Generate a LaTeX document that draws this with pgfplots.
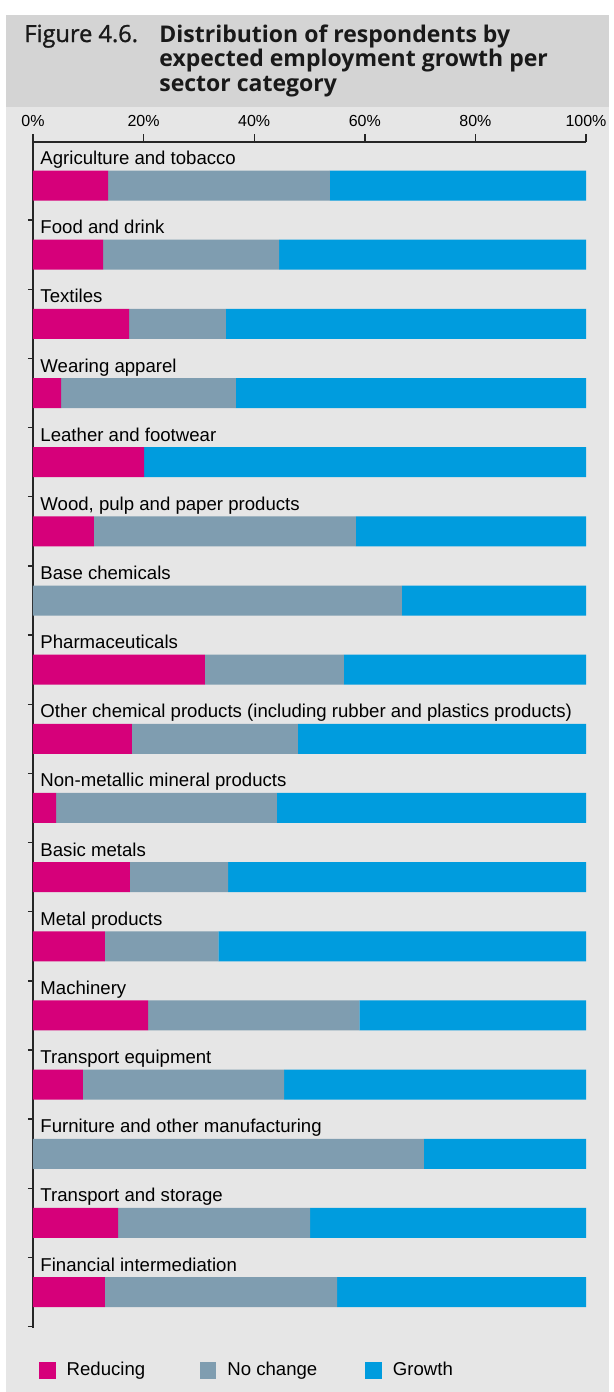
\documentclass[border=0pt]{standalone}
\usepackage{pgfplots}
\pgfplotsset{compat=1.18}
\usepackage{pgfplotstable}
\usepackage{fontspec}
\setmainfont{Liberation Sans}
\newfontfamily\titlefont{Open Sans}
\newfontfamily\figfont{Open Sans}[FakeBold=1.2]
\definecolor{reducing}{HTML}{D6007A}
\definecolor{nochange}{HTML}{7F9DB0}
\definecolor{growth}{HTML}{009CDE}
\definecolor{titlebg}{HTML}{D4D4D4}
\definecolor{panelbg}{HTML}{E6E6E6}

% share of respondents (%) per sector, top to bottom
\pgfplotstableread{
idx red grey blue
0  13.6 40.1 46.3
1  12.7 31.8 55.5
2  17.4 17.5 65.1
3   5.1 31.6 63.3
4  20.1  0.0 79.9
5  11.0 47.4 41.6
6   0.0 66.7 33.3
7  31.1 25.1 43.8
8  17.9 30.0 52.1
9   4.2 39.9 55.9
10 17.5 17.8 64.7
11 13.0 20.5 66.5
12 20.8 38.2 41.0
13  9.0 36.4 54.6
14  0.0 70.7 29.3
15 15.4 34.7 49.9
16 13.0 42.0 45.0
}\sectors

\begin{document}
\begin{tikzpicture}
\fill[white] (0,0) rectangle (304.5pt,-696pt);
\fill[titlebg] (3pt,-7.5pt) rectangle (304.5pt,-53.5pt);
\fill[panelbg] (3pt,-53.5pt) rectangle (304.5pt,-696pt);
\node[anchor=base west, inner sep=0pt, text=black!90, font=\figfont\fontsize{11.8}{12}\selectfont] at (12pt,-21pt) {Figure 4.6.};
\begin{scope}[every node/.style={anchor=base west, inner sep=0pt, text=black!90, font=\titlefont\bfseries\fontsize{11.5}{12}\selectfont}]
\node at (79.5pt,-21pt) {Distribution of respondents by};
\node at (79.5pt,-33.3pt) {expected employment growth per};
\node at (79.5pt,-45.6pt) {sector category};
\end{scope}

\begin{axis}[
    at={(16.5pt,-71pt)}, anchor=north west,
    scale only axis,
    width=276.5pt, height=593pt,
    xbar stacked,
    bar width=15pt,
    xmin=0, xmax=100,
    ymin=-0.63, ymax=16.52,
    y dir=reverse,
    axis x line*=top,
    axis y line*=left,
    axis line style={line width=0.7pt, black!85},
    tick align=outside,
    tick style={line width=0.7pt, black!85},
    major tick length=4pt,
    minor tick length=2.5pt,
    xtick={0,20,40,60,80,100},
    xticklabel={\pgfmathprintnumber{\tick}\%},
    xticklabel style={font=\fontsize{8}{9}\selectfont},
    ytick={0,...,16},
    minor ytick={0.5,1.5,...,15.5,16.5},
    every major y tick/.append style={draw=none},
    yticklabels={
        Agriculture and tobacco,
        Food and drink,
        Textiles,
        Wearing apparel,
        Leather and footwear,
        {Wood, pulp and paper products},
        Base chemicals,
        Pharmaceuticals,
        Other chemical products (including rubber and plastics products),
        Non-metallic mineral products,
        Basic metals,
        Metal products,
        Machinery,
        Transport equipment,
        Furniture and other manufacturing,
        Transport and storage,
        Financial intermediation},
    yticklabel style={anchor=base west, xshift=4.2pt, yshift=10.5pt,
        text=black, font=\fontsize{9.3}{11}\selectfont},
    /pgf/number format/assume math mode=true,
    legend style={
        at={(0.0105,-0.0358)}, anchor=west,
        draw=none, fill=none,
        inner sep=0pt,
        nodes={inner sep=0pt, font=\fontsize{9.3}{11}\selectfont},
        legend columns=3,
        /tikz/every odd column/.append style={column sep=5.5pt},
    },
    legend image code/.code={\fill[#1] (0pt,-4.1pt) rectangle (8.25pt,4.1pt);},
]
\addplot[fill=reducing, draw=none] table[x=red, y=idx] {\sectors};
\addlegendentry{\makebox[66.6pt][l]{Reducing}}
\addplot[fill=nochange, draw=none] table[x=grey, y=idx] {\sectors};
\addlegendentry{\makebox[69pt][l]{No change}}
\addplot[fill=growth, draw=none] table[x=blue, y=idx] {\sectors};
\addlegendentry{Growth}
\end{axis}
\end{tikzpicture}
\end{document}
